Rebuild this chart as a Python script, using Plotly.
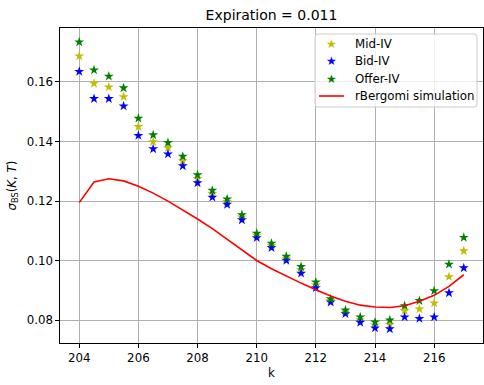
import plotly.graph_objects as go

# Strikes and implied volatilities
strikes = [204.0, 204.5, 205.0, 205.5, 206.0, 206.5, 207.0, 207.5, 208.0, 208.5,
           209.0, 209.5, 210.0, 210.5, 211.0, 211.5, 212.0, 212.5, 213.0, 213.5,
           214.0, 214.5, 215.0, 215.5, 216.0, 216.5, 217.0]

mid_iv = [0.1687, 0.1595, 0.1583, 0.1550, 0.1450, 0.1399, 0.1379, 0.1335, 0.1276, 0.1225,
          0.1198, 0.1146, 0.1085, 0.1051, 0.1008, 0.0969, 0.0918, 0.0866, 0.0828, 0.0802,
          0.0784, 0.0786, 0.0832, 0.0838, 0.0858, 0.0946, 0.1033]

bid_iv = [0.1635, 0.1544, 0.1544, 0.1519, 0.1420, 0.1375, 0.1358, 0.1318, 0.1261, 0.1213,
          0.1189, 0.1137, 0.1077, 0.1044, 0.1001, 0.0958, 0.0909, 0.0861, 0.0822, 0.0793,
          0.0774, 0.0771, 0.0811, 0.0806, 0.0811, 0.0892, 0.0976]

offer_iv = [0.1734, 0.1640, 0.1619, 0.1580, 0.1478, 0.1422, 0.1396, 0.1350, 0.1288, 0.1236,
            0.1207, 0.1154, 0.1092, 0.1058, 0.1015, 0.0980, 0.0928, 0.0872, 0.0834, 0.0811,
            0.0794, 0.0801, 0.0849, 0.0866, 0.0899, 0.0988, 0.1078]

rbergomi_iv = [0.1195, 0.1264, 0.1275, 0.1268, 0.1250, 0.1227, 0.1200, 0.1171, 0.1140, 0.1108,
               0.1073, 0.1036, 0.1001, 0.0973, 0.0948, 0.0925, 0.0903, 0.0882, 0.0864, 0.0851,
               0.0845, 0.0843, 0.0849, 0.0864, 0.0884, 0.0914, 0.0953]

series_names = ["Mid-IV", "Bid-IV", "Offer-IV", "rBergomi simulation"]

x_ticks = [204, 206, 208, 210, 212, 214, 216]
y_ticks = [0.08, 0.10, 0.12, 0.14, 0.16]

FONT = "DejaVu Sans"
TXT = 11.8
STAR = 7.5
COLORS = {"Mid-IV": "#bfbf00", "Bid-IV": "#0000ff", "Offer-IV": "#008000",
          "rBergomi simulation": "#ff0000"}

# plot-area geometry in pixels
L, R, T, B = 60, 1, 28, 42
W, H = 484, 385
PW, PH = W - L - R, H - T - B


def fx(p):
    return (p - L) / PW


def fy(p):
    return 1 - (p - T) / PH


fig = go.Figure()
for name, vals in zip(series_names[:3], [mid_iv, bid_iv, offer_iv]):
    fig.add_trace(go.Scatter(x=strikes, y=vals, mode="markers", name=name, showlegend=False,
                             marker=dict(symbol="star", size=STAR, color=COLORS[name],
                                         line=dict(width=0))))
fig.add_trace(go.Scatter(x=strikes, y=rbergomi_iv, mode="lines", name=series_names[3],
                         showlegend=False,
                         line=dict(color=COLORS[series_names[3]], width=1.6)))

axis_common = dict(
    showline=True, linecolor="black", linewidth=0.8, mirror=True,
    ticks="outside", ticklen=3.7, tickwidth=0.8, tickcolor="black",
    showgrid=True, gridcolor="#b0b0b0", gridwidth=0.8,
    zeroline=False,
    tickfont=dict(family=FONT, size=TXT, color="black"),
)

fig.update_xaxes(range=[203.35, 217.65], tickvals=x_ticks,
                 ticktext=[str(v) for v in x_ticks], **axis_common)
fig.update_yaxes(range=[0.0724, 0.1781], tickvals=y_ticks,
                 ticktext=[f"{v:.2f}" for v in y_ticks], **axis_common)

fig.update_layout(
    width=W, height=H,
    margin=dict(l=L, r=R, t=T, b=B),
    paper_bgcolor="white", plot_bgcolor="white",
    font=dict(family=FONT, size=TXT, color="black"),
    title=dict(text="Expiration = 0.011", x=(L + PW / 2) / W, xanchor="center",
               y=1 - 15 / H, yanchor="middle", yref="container",
               font=dict(family=FONT, size=14, color="black")),
    showlegend=False,
)

# Axis labels
fig.add_annotation(text="<i>σ</i><sub>BS</sub>(<i>K</i>, <i>T</i>)", xref="paper", yref="paper",
                   x=fx(12), y=0.5, xanchor="center", yanchor="middle",
                   textangle=-90, showarrow=False,
                   font=dict(family=FONT, size=TXT, color="black"))
fig.add_annotation(text="k", xref="paper", yref="paper",
                   x=0.5, y=fy(373), xanchor="center", yanchor="middle",
                   showarrow=False, font=dict(family=FONT, size=TXT, color="black"))

# Legend: rounded box, handles and labels
bx0, bx1, by0, by1, rad = 315, 477, 34, 107, 3
path = (f"M {fx(bx0 + rad)},{fy(by0)} L {fx(bx1 - rad)},{fy(by0)} "
        f"Q {fx(bx1)},{fy(by0)} {fx(bx1)},{fy(by0 + rad)} "
        f"L {fx(bx1)},{fy(by1 - rad)} Q {fx(bx1)},{fy(by1)} {fx(bx1 - rad)},{fy(by1)} "
        f"L {fx(bx0 + rad)},{fy(by1)} Q {fx(bx0)},{fy(by1)} {fx(bx0)},{fy(by1 - rad)} "
        f"L {fx(bx0)},{fy(by0 + rad)} Q {fx(bx0)},{fy(by0)} {fx(bx0 + rad)},{fy(by0)} Z")
fig.add_shape(type="path", path=path, xref="paper", yref="paper", layer="above",
              fillcolor="rgba(255,255,255,0.8)", line=dict(color="#cccccc", width=1))

rows = [44, 61.3, 78.6, 96]
for name, ry in zip(series_names, rows):
    if name == "rBergomi simulation":
        fig.add_shape(type="line", xref="paper", yref="paper", layer="above",
                      x0=fx(319), x1=fx(344), y0=fy(ry), y1=fy(ry),
                      line=dict(color=COLORS[name], width=1.6))
    else:
        fig.add_annotation(text="★", xref="paper", yref="paper", x=fx(331.5), y=fy(ry),
                           xanchor="center", yanchor="middle", showarrow=False,
                           font=dict(family=FONT, size=12, color=COLORS[name]))
    fig.add_annotation(text=name, xref="paper", yref="paper", x=fx(353), y=fy(ry),
                       xanchor="left", yanchor="middle", showarrow=False,
                       font=dict(family=FONT, size=TXT, color="black"))

fig.write_html("out.html")
